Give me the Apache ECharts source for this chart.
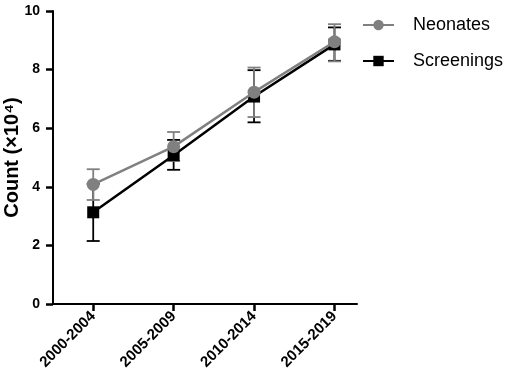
<!DOCTYPE html>
<html>
<head>
<meta charset="utf-8">
<script src="https://cdn.jsdelivr.net/npm/echarts@6/dist/echarts.min.js"></script>
<style>
  html, body { margin: 0; padding: 0; background: #fff; }
  #chart { width: 510px; height: 385px; }
</style>
</head>
<body>
<div id="chart"></div>
<script>
// data
var periods = ['2000-2004', '2005-2009', '2010-2014', '2015-2019'];
var neonates = [4.08, 5.37, 7.23, 8.95];
var neonatesLow = [3.55, 4.88, 6.38, 8.28];
var neonatesHigh = [4.6, 5.87, 8.07, 9.55];
var screenings = [3.13, 5.08, 7.08, 8.86];
var screeningsLow = [2.15, 4.58, 6.2, 8.3];
var screeningsHigh = [4.1, 5.6, 7.98, 9.44];
var yTicks = [0, 2, 4, 6, 8, 10];

var grey = '#808080';
var font = 'Liberation Sans, Arial, sans-serif';

function pts(vals) {
  return vals.map(function (v, i) { return [i, v]; });
}
function bars(lo, hi) {
  return lo.map(function (v, i) { return [i, v, hi[i]]; });
}

function errorBar(color) {
  return function (params, api) {
    var x = api.value(0);
    var lo = api.coord([x, api.value(1)]);
    var hi = api.coord([x, api.value(2)]);
    var w = 6.5;
    var st = { stroke: color, lineWidth: 1.8 };
    return {
      type: 'group',
      children: [
        { type: 'line', shape: { x1: lo[0], y1: lo[1], x2: hi[0], y2: hi[1] }, style: st },
        { type: 'line', shape: { x1: lo[0] - w, y1: lo[1], x2: lo[0] + w, y2: lo[1] }, style: st },
        { type: 'line', shape: { x1: hi[0] - w, y1: hi[1], x2: hi[0] + w, y2: hi[1] }, style: st }
      ]
    };
  };
}

var chart = echarts.init(document.getElementById('chart'));
chart.setOption({
  animation: false,
  grid: { left: 53, top: 11, right: 153, bottom: 81, outerBoundsMode: 'none', containLabel: false },
  legend: {
    orient: 'vertical',
    left: 362,
    top: 16,
    padding: 0,
    itemWidth: 31,
    itemHeight: 13,
    itemGap: 18,
    data: ['Neonates', 'Screenings'],
    textStyle: { fontFamily: font, fontSize: 18, color: '#000', padding: [0, 0, 0, 14] }
  },
  xAxis: {
    type: 'value',
    min: -0.5,
    max: 3.28,
    splitLine: { show: false },
    axisLine: { onZero: false, lineStyle: { color: '#000', width: 2 } },
    axisTick: { show: true, customValues: [0, 1, 2, 3], length: 7, lineStyle: { color: '#000', width: 2.5 } },
    axisLabel: {
      customValues: [0, 1, 2, 3],
      formatter: function (v) { return periods[Math.round(v)]; },
      rotate: 45,
      fontFamily: font,
      fontWeight: 'bold',
      fontSize: 15,
      color: '#000',
      margin: 10
    }
  },
  yAxis: {
    type: 'value',
    min: 0,
    max: 10,
    interval: 2,
    name: 'Count (×10⁴)',
    nameLocation: 'middle',
    nameGap: 31,
    nameMoveOverlap: false,
    nameTextStyle: { fontFamily: font, fontWeight: 'bold', fontSize: 20, color: '#000' },
    splitLine: { show: false },
    axisLine: { show: true, onZero: false, lineStyle: { color: '#000', width: 2 } },
    axisTick: { show: true, length: 7, lineStyle: { color: '#000', width: 2.5 } },
    axisLabel: {
      fontFamily: font,
      fontWeight: 'bold',
      fontSize: 14,
      color: '#000',
      margin: 13
    }
  },
  series: [
    {
      type: 'custom',
      name: 'screeningsErr',
      renderItem: errorBar('#000'),
      data: bars(screeningsLow, screeningsHigh),
      z: 2
    },
    {
      type: 'custom',
      name: 'neonatesErr',
      renderItem: errorBar(grey),
      data: bars(neonatesLow, neonatesHigh),
      z: 2
    },
    {
      name: 'Screenings',
      type: 'line',
      data: pts(screenings),
      symbol: 'rect',
      symbolSize: 12,
      itemStyle: { color: '#000' },
      lineStyle: { color: '#000', width: 2.5 },
      z: 3
    },
    {
      name: 'Neonates',
      type: 'line',
      data: pts(neonates),
      symbol: 'circle',
      symbolSize: 13,
      itemStyle: { color: grey },
      lineStyle: { color: grey, width: 2.5 },
      z: 4
    }
  ]
});
</script>
</body>
</html>
